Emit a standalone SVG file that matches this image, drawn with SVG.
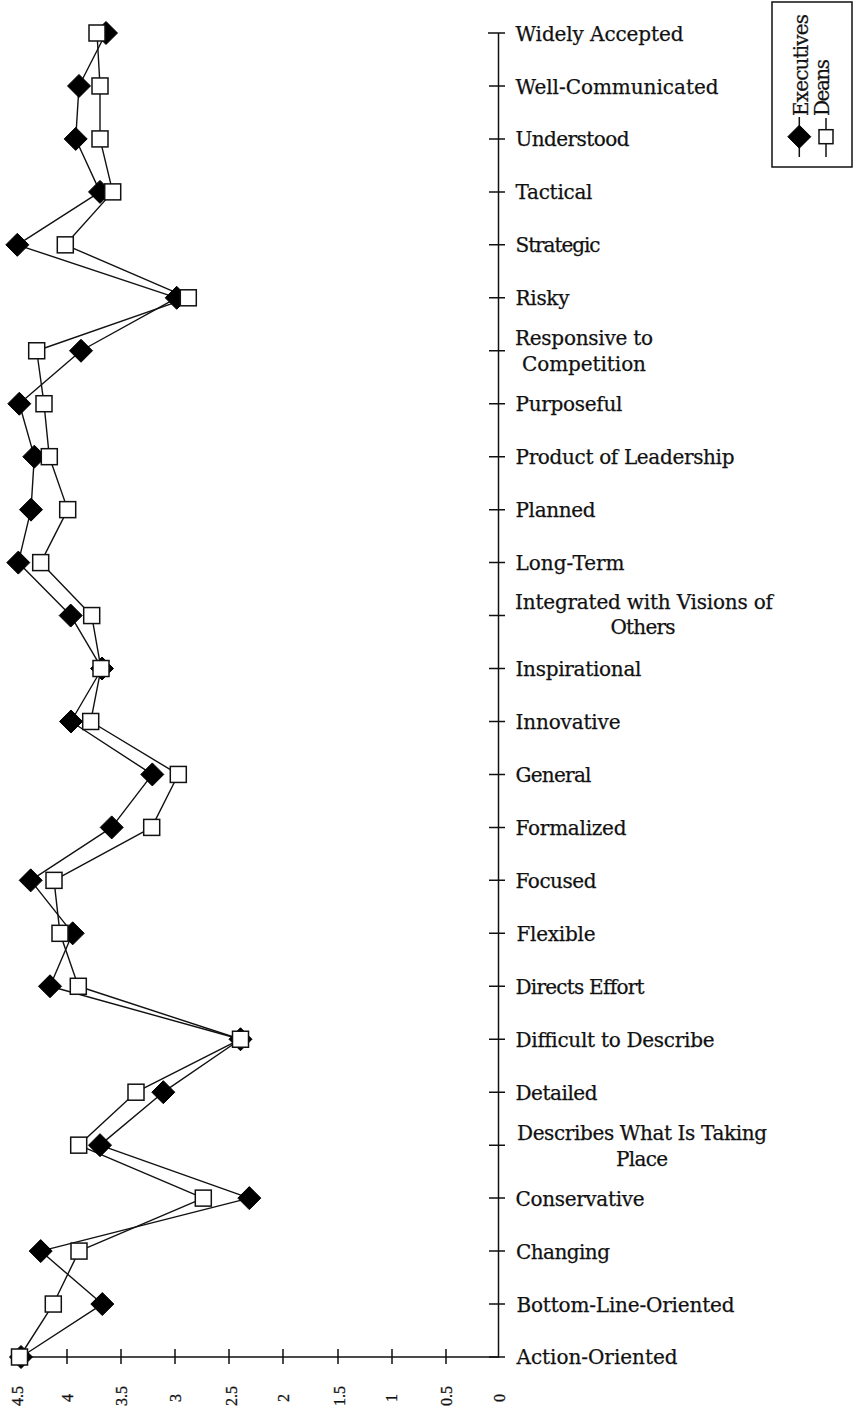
<svg xmlns="http://www.w3.org/2000/svg" width="856" height="1407" viewBox="0 0 856 1407">
<style>
.bg{fill:#fff}
.ax{stroke:#111;stroke-width:1.5;fill:none}
.ser{stroke:#111;stroke-width:1.4;fill:none;stroke-linejoin:round}
.dia{fill:#000;stroke:#000;stroke-width:1}
.sq{fill:#fff;stroke:#111;stroke-width:1.5}
.lbl{font-family:"DejaVu Serif","Liberation Serif",serif;font-size:20px;fill:#111;stroke:#111;stroke-width:0.25}
.tk{font-family:"Liberation Serif","DejaVu Serif",serif;font-size:16px;fill:#111;stroke:#111;stroke-width:0.3}
.leg{font-family:"DejaVu Serif","Liberation Serif",serif;font-size:20px;fill:#111;stroke:#111;stroke-width:0.25}
</style>
<defs>
<path id="dia" class="dia" d="M0,-11.5 L11.5,0 L0,11.5 L-11.5,0Z"/>
<rect id="sq" class="sq" x="-8" y="-8" width="16" height="16"/>
</defs>
<rect class="bg" x="0" y="0" width="856" height="1407"/>

<g id="axes">
<path class="ax" d="M498.5,33 V1357 H13"/>
<path class="ax" d="M488,33 H505 M489,85.96 H505 M489,138.92 H505 M489,191.88 H505 M489,244.84 H505 M489,297.8 H505 M489,350.76 H505 M489,403.72 H505 M489,456.68 H505 M489,509.64 H505 M489,562.6 H505 M489,615.56 H505 M489,668.52 H505 M489,721.48 H505 M489,774.44 H505 M489,827.4 H505 M489,880.36 H505 M489,933.32 H505 M489,986.28 H505 M489,1039.24 H505 M489,1092.2 H505 M489,1145.16 H505 M489,1198.12 H505 M489,1251.08 H505 M489,1304.04 H505 M489,1357 H505"/>
<path class="ax" d="M67,1349 V1364 M121,1349 V1364 M175,1349 V1364 M229,1349 V1364 M283,1349 V1364 M338,1349 V1364 M392,1349 V1364 M446,1349 V1364 M13,1349 V1364"/>
</g>

<g id="x-tick-labels" class="tk" text-anchor="middle">
<text transform="translate(23,1396) rotate(-90)">4.5</text>
<text transform="translate(73.3,1398) rotate(-90)">4</text>
<text transform="translate(126.5,1396) rotate(-90)">3.5</text>
<text transform="translate(180.5,1398) rotate(-90)">3</text>
<text transform="translate(236.5,1396) rotate(-90)">2.5</text>
<text transform="translate(288.5,1398) rotate(-90)">2</text>
<text transform="translate(344.5,1396) rotate(-90)">1.5</text>
<text transform="translate(397.2,1398) rotate(-90)">1</text>
<text transform="translate(451.5,1396) rotate(-90)">0.5</text>
<text transform="translate(504.5,1398) rotate(-90)">0</text>
</g>

<g id="category-labels" class="lbl">
<text x="515.5" y="40.5" textLength="168">Widely Accepted</text>
<text x="515.5" y="93.5" textLength="203">Well-Communicated</text>
<text x="515.5" y="146.4" textLength="114">Understood</text>
<text x="515.5" y="199.4" textLength="77">Tactical</text>
<text x="515.5" y="252.3" textLength="85">Strategic</text>
<text x="515.5" y="305.3" textLength="54">Risky</text>
<text x="584" y="345" text-anchor="middle" textLength="138">Responsive to</text>
<text x="584" y="370.8" text-anchor="middle" textLength="124">Competition</text>
<text x="515.5" y="411.2" textLength="107">Purposeful</text>
<text x="515.5" y="464.2" textLength="219">Product of Leadership</text>
<text x="515.5" y="517.1" textLength="80">Planned</text>
<text x="515.5" y="570.1" textLength="109">Long-Term</text>
<text x="644" y="609" text-anchor="middle" textLength="258">Integrated with Visions of</text>
<text x="643" y="634" text-anchor="middle" textLength="65">Others</text>
<text x="515.5" y="676" textLength="126">Inspirational</text>
<text x="515.5" y="729" textLength="105">Innovative</text>
<text x="515.5" y="781.9" textLength="76">General</text>
<text x="515.5" y="834.9" textLength="111">Formalized</text>
<text x="515.5" y="887.9" textLength="81">Focused</text>
<text x="516.5" y="940.8" textLength="79">Flexible</text>
<text x="515.5" y="993.8" textLength="129">Directs Effort</text>
<text x="515.5" y="1046.7" textLength="199">Difficult to Describe</text>
<text x="515.5" y="1099.7" textLength="82">Detailed</text>
<text x="642" y="1140" text-anchor="middle" textLength="250">Describes What Is Taking</text>
<text x="642" y="1166" text-anchor="middle" textLength="52">Place</text>
<text x="515.5" y="1205.6" textLength="129">Conservative</text>
<text x="516" y="1258.6" textLength="94">Changing</text>
<text x="516.5" y="1311.5" textLength="218">Bottom-Line-Oriented</text>
<text x="516.5" y="1364" textLength="161">Action-Oriented</text>
</g>

<g id="connectors">
<polyline id="executives-line" class="ser" points="106,33 79,85.96 75.7,138.92 100,191.88 17.3,244.84 176.7,297.8 81,350.76 19.3,403.72 34.3,456.68 31,509.64 18.3,562.6 70.7,615.56 102,668.52 71,721.48 152.3,774.44 111.7,827.4 30.7,880.36 72.7,933.32 50,986.28 240.5,1039.24 163.3,1092.2 100,1145.16 249.3,1198.12 40.7,1251.08 102.3,1304.04 21,1357"/>
<polyline id="deans-line" class="ser" points="97,33 100,85.96 100,138.92 112.7,191.88 65.3,244.84 188.3,297.8 36.7,350.76 44,403.72 49.3,456.68 67.7,509.64 40.7,562.6 91.7,615.56 101,668.52 90.7,721.48 178.3,774.44 151.7,827.4 54,880.36 60,933.32 78.3,986.28 240.5,1039.24 136,1092.2 78.7,1145.16 203.3,1198.12 79,1251.08 53.3,1304.04 19.5,1357"/>
</g>

<g id="executives-markers">
<use href="#dia" x="106" y="33"/>
<use href="#dia" x="79" y="85.96"/>
<use href="#dia" x="75.7" y="138.92"/>
<use href="#dia" x="100" y="191.88"/>
<use href="#dia" x="17.3" y="244.84"/>
<use href="#dia" x="176.7" y="297.8"/>
<use href="#dia" x="81" y="350.76"/>
<use href="#dia" x="19.3" y="403.72"/>
<use href="#dia" x="34.3" y="456.68"/>
<use href="#dia" x="31" y="509.64"/>
<use href="#dia" x="18.3" y="562.6"/>
<use href="#dia" x="70.7" y="615.56"/>
<use href="#dia" x="102" y="668.52"/>
<use href="#dia" x="71" y="721.48"/>
<use href="#dia" x="152.3" y="774.44"/>
<use href="#dia" x="111.7" y="827.4"/>
<use href="#dia" x="30.7" y="880.36"/>
<use href="#dia" x="72.7" y="933.32"/>
<use href="#dia" x="50" y="986.28"/>
<use href="#dia" x="240.5" y="1039.24"/>
<use href="#dia" x="163.3" y="1092.2"/>
<use href="#dia" x="100" y="1145.16"/>
<use href="#dia" x="249.3" y="1198.12"/>
<use href="#dia" x="40.7" y="1251.08"/>
<use href="#dia" x="102.3" y="1304.04"/>
<use href="#dia" x="21" y="1357"/>
</g>

<g id="deans-markers">
<use href="#sq" x="97" y="33"/>
<use href="#sq" x="100" y="85.96"/>
<use href="#sq" x="100" y="138.92"/>
<use href="#sq" x="112.7" y="191.88"/>
<use href="#sq" x="65.3" y="244.84"/>
<use href="#sq" x="188.3" y="297.8"/>
<use href="#sq" x="36.7" y="350.76"/>
<use href="#sq" x="44" y="403.72"/>
<use href="#sq" x="49.3" y="456.68"/>
<use href="#sq" x="67.7" y="509.64"/>
<use href="#sq" x="40.7" y="562.6"/>
<use href="#sq" x="91.7" y="615.56"/>
<use href="#sq" x="101" y="668.52"/>
<use href="#sq" x="90.7" y="721.48"/>
<use href="#sq" x="178.3" y="774.44"/>
<use href="#sq" x="151.7" y="827.4"/>
<use href="#sq" x="54" y="880.36"/>
<use href="#sq" x="60" y="933.32"/>
<use href="#sq" x="78.3" y="986.28"/>
<use href="#sq" x="240.5" y="1039.24"/>
<use href="#sq" x="136" y="1092.2"/>
<use href="#sq" x="78.7" y="1145.16"/>
<use href="#sq" x="203.3" y="1198.12"/>
<use href="#sq" x="79" y="1251.08"/>
<use href="#sq" x="53.3" y="1304.04"/>
<use href="#sq" x="19.5" y="1357"/>
</g>

<g id="legend">
<rect x="772" y="2" width="80" height="165" fill="#fff" stroke="#111" stroke-width="1.5"/>
<line class="ax" x1="799.3" y1="117" x2="799.3" y2="157"/>
<use href="#dia" x="799.3" y="136.7"/>
<line class="ax" x1="826" y1="118" x2="826" y2="157"/>
<rect class="sq" x="819" y="129.7" width="14" height="14"/>
<text class="leg" transform="translate(808,116) rotate(-90)" textLength="102">Executives</text>
<text class="leg" transform="translate(829,116) rotate(-90)" textLength="57">Deans</text>
</g>
</svg>
